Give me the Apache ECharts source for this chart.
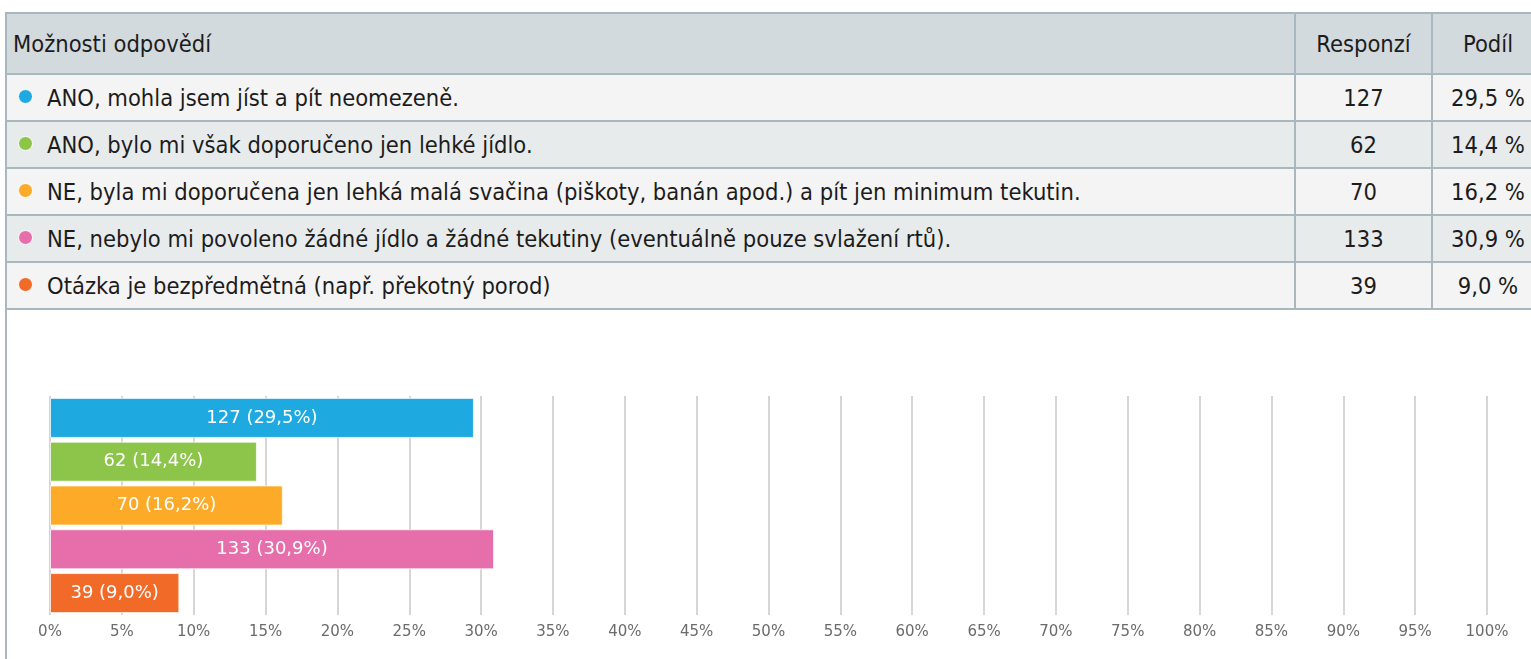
<!DOCTYPE html>
<html>
<head>
<meta charset="utf-8">
<script src="https://cdn.jsdelivr.net/npm/echarts@6/dist/echarts.min.js"></script>
<style>
  html, body { margin: 0; padding: 0; background: #fff; overflow: hidden; }
  body { width: 1531px; height: 659px; position: relative; }
  .frame {
    position: absolute; left: 5px; top: 12px; width: 1538px; height: 660px;
    border-left: 2px solid #a9b8bf; border-top: 2px solid #a9b8bf; box-sizing: border-box;
  }
  table.answers {
    position: absolute; left: 5px; top: 12px; width: 1538px;
    border-collapse: collapse; table-layout: fixed;
    font-family: "DejaVu Sans Condensed", "DejaVu Sans", sans-serif;
    font-stretch: condensed;
    font-size: 23.5px; color: #1c1c1c;
  }
  table.answers th, table.answers td {
    border: 2px solid #a9b8bf; height: 47px; padding: 0 6px; white-space: nowrap;
    font-weight: normal; box-sizing: border-box;
  }
  table.answers th { background: #d2dadd; height: 61px; text-align: left; }
  table.answers th.num, table.answers td.num { text-align: center; }
  table.answers tbody tr:nth-child(odd) td { background: #f4f4f4; }
  table.answers tbody tr:nth-child(even) td { background: #e8ebec; }
  .dot {
    display: inline-block; width: 13px; height: 13px; border-radius: 50%;
    border: 1px solid #fff; margin: 0 14px 0 5px; vertical-align: 2px;
  }
  #chart { position: absolute; left: 7px; top: 309px; width: 1524px; height: 350px; }
</style>
</head>
<body>
<div class="frame"></div>
<table class="answers">
  <colgroup><col style="width:1289px"><col style="width:137px"><col style="width:112px"></colgroup>
  <thead><tr><th>Možnosti odpovědí</th><th class="num">Responzí</th><th class="num">Podíl</th></tr></thead>
  <tbody id="rows"></tbody>
</table>
<div id="chart"></div>
<script>
// answers and counts as shown in the survey table
const answers = [
  "ANO, mohla jsem jíst a pít neomezeně.",
  "ANO, bylo mi však doporučeno jen lehké jídlo.",
  "NE, byla mi doporučena jen lehká malá svačina (piškoty, banán apod.) a pít jen minimum tekutin.",
  "NE, nebylo mi povoleno žádné jídlo a žádné tekutiny (eventuálně pouze svlažení rtů).",
  "Otázka je bezpředmětná (např. překotný porod)",
];
const responses = [127, 62, 70, 133, 39];
const shares = [29.5, 14.4, 16.2, 30.9, 9.0];
const colors = ["#1fa9e1", "#8cc54a", "#fcaa27", "#e66fab", "#f26a27"];

const fmt = v => v.toFixed(1).replace(".", ",");

const tbody = document.getElementById("rows");
answers.forEach((a, i) => {
  const tr = document.createElement("tr");
  tr.innerHTML =
    `<td><span class="dot" style="background:${colors[i]}"></span>${a}</td>` +
    `<td class="num">${responses[i]}</td><td class="num">${fmt(shares[i])} %</td>`;
  tbody.appendChild(tr);
});

const chart = echarts.init(document.getElementById("chart"));
const option = {
  animation: false,
  grid: { left: 43, right: 44, top: 87, bottom: 44, containLabel: false },
  xAxis: {
    type: "value",
    min: 0,
    max: 100,
    interval: 5,
    axisLine: { show: false },
    axisTick: { show: false },
    axisLabel: {
      formatter: "{value}%",
      color: "#6b6b6b",
      fontFamily: "DejaVu Sans",
      fontSize: 15,
      margin: 10,
    },
    splitLine: { lineStyle: { color: "#c8c8c8", width: 1.5 } },
  },
  yAxis: {
    type: "category",
    inverse: true,
    data: answers,
    axisLine: { show: false },
    axisTick: { show: false },
    axisLabel: { show: false },
  },
  series: [
    {
      type: "bar",
      barCategoryGap: "8.6%",
      data: shares.map((v, i) => ({ value: v, itemStyle: { color: colors[i] } })),
      itemStyle: { borderColor: "rgba(255,255,255,0.7)", borderWidth: 1 },
      label: {
        show: true,
        position: "inside",
        color: "#fff",
        fontFamily: "DejaVu Sans",
        fontSize: 18,
        formatter: p => `${responses[p.dataIndex]} (${fmt(p.value)}%)`,
      },
    },
  ],
};
chart.setOption(option);
</script>
</body>
</html>
